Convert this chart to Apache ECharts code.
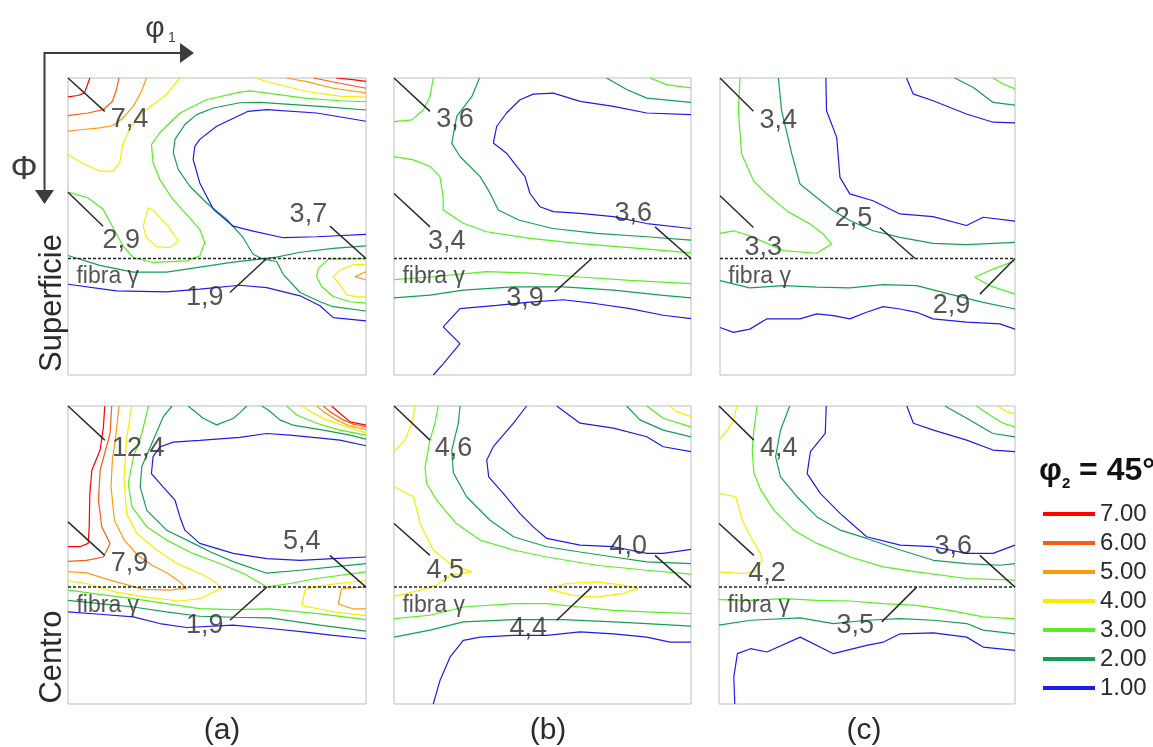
<!DOCTYPE html>
<html>
<head>
<meta charset="utf-8">
<title>ODF phi2 = 45</title>
<script src="https://cdn.jsdelivr.net/npm/echarts@6/dist/echarts.min.js"></script>
<style>
html, body { margin: 0; padding: 0; background: #fff; }
#content-data { width: 1153px; height: 747px; }
</style>
</head>
<body>
<div id="content-data"></div>
<script>
/* contour levels (legend) */
var levelNames = ['7.00', '6.00', '5.00', '4.00', '3.00', '2.00', '1.00'];
var levelColors = { 7: '#ff0000', 6: '#ff5a10', 5: '#ff9a10', 4: '#f6ee00', 3: '#55ee22', 2: '#13a050', 1: '#1c1cec' };
var fibraPhi = 54.7;

/* contour lines per panel: [level, [[phi1, Phi], ...]] in degrees */
var supA = [
  [7, [[6.6,0],[5,4.5],[3,5.3],[0,5.7]]],
  [7, [[81,0],[86,0.5],[90,1]]],
  [6, [[15.4,0],[14.6,3.7],[13.4,7.1],[10.6,9.6],[6,10.6],[0,11.4]]],
  [6, [[74.1,0],[82.1,1.6],[90,3.1]]],
  [5, [[23.7,0],[22.2,4],[19.7,8.6],[16.6,12.1],[13.6,14.4],[9.6,15.1],[4.5,15.6],[0,16.1]]],
  [5, [[66,0],[72.1,1.1],[80.1,3.1],[90,4.5]]],
  [5, [[90,58.7],[86.7,60.2],[90,61.2]]],
  [4, [[33.8,0],[29.7,5],[23.7,9.6],[19.7,13.6],[16.6,19.7],[15.6,25.7],[13.6,28.2],[9.6,28.2],[4.5,25.9],[0,23.2]]],
  [4, [[56.5,0],[62,1.6],[72.1,4.1],[82.1,5.5],[90,5.8]]],
  [4, [[22.7,44.9],[24.2,39.3],[25.7,40],[30.2,44.9],[33.3,49.4],[30.7,51.4],[26.7,51.1],[23.7,48.4],[22.7,44.9]]],
  [4, [[90,56.4],[86.2,56.6],[82.1,58.2],[80.1,60.2],[82.1,62.7],[84.2,65.7],[87.2,66.3],[90,66.3]]],
  [3, [[90,7.2],[82.1,6.9],[72.1,6.2],[62,4.8],[55,3.9],[51.9,4.3],[41.8,6.6],[33.8,10.6],[27.7,16.6],[25.2,20.2],[25.7,25.7],[27.7,30.7],[31.3,36.3],[35.8,41.3],[39.8,45.9],[41.3,49.9],[39.8,53.9],[35.8,55.4],[25.7,55.9],[19.7,54.4],[16.6,50.9],[13.1,44.4],[10.6,39.8],[6,36.3],[0,34.6]]],
  [3, [[90,54.7],[84,54.8],[78.6,54.9],[75.6,57.7],[75.1,60.2],[76.6,63.2],[80.1,66.2],[85.2,67.8],[90,68.2]]],
  [2, [[90,9.7],[77.1,8.7],[67,8],[58,7.4],[51.9,7.5],[43.9,9.1],[38.8,11.1],[35.3,14.1],[32.3,18.6],[31.8,22.7],[33.3,27.7],[36.8,32.8],[41.8,37.8],[47.9,42.8],[52.9,48.4],[55.9,53.4],[59,54.9],[63,55.6],[65,59.5],[70.1,65],[76.1,67.8],[80.1,69.3],[90,70.6]]],
  [2, [[0,53.8],[9.6,56.8],[19.7,58.8],[29.7,58.8],[39.8,57.3],[49.9,55.8],[55.9,55.1],[63,54.3],[70.1,52.8],[80.1,51.6],[90,50.9]]],
  [1, [[90,13.1],[75.1,10.6],[60,9.6],[54.4,10.1],[44.9,14.6],[39.8,18.6],[38.3,20.7],[37.8,24.7],[39.8,31.8],[43.9,39.8],[49.9,44.9],[55.9,46.4],[65,48.4],[75.1,48.1],[90,47.4]]],
  [1, [[0,62.5],[14.6,64.5],[29.7,64.8],[39.8,64],[51.9,62.8],[60,63.5],[70.1,66],[76.1,69],[80.1,72.6],[90,73.6]]]
];
var supB = [
  [3, [[11.9,0],[10.9,5.6],[8.9,9.6],[5.4,12.7],[0,13.2]]],
  [2, [[25.9,0],[23.6,5.6],[19,11.6],[17.5,19.8],[20,23.8],[26.1,29.9],[29.1,34.9],[31.6,40],[38,43.1],[48.1,45.6],[61.4,47.1],[76.6,48.1],[90,49.1]]],
  [3, [[0,23.8],[5.9,24.8],[10.9,26.8],[13.9,29.9],[14.9,36],[14.9,40],[21,44],[28.1,46.6],[41.2,48.6],[56.4,50.2],[71.5,51.4],[90,53]]],
  [1, [[90,45.6],[76.6,44.1],[66.5,42],[56.4,41],[48.3,40.5],[44.2,39],[41.2,35],[39.7,29.9],[37.2,26.8],[34.1,22.8],[30.1,19.7],[31.1,14.7],[34.1,10.6],[38.2,6.6],[42.2,4.9],[48.3,4.6],[56.4,7.1],[66.5,8.6],[76.6,10.6],[90,11.1]]],
  [2, [[64.4,0],[70.5,3.5],[76.6,6.1],[90,7.4]]],
  [3, [[77.6,0],[82.6,2],[90,3]]],
  [3, [[0,61.1],[10.9,60.3],[28.1,58.7],[41.2,59.1],[56.4,60.3],[71.5,61.3],[90,62.3]]],
  [2, [[0,66.6],[10.9,65.8],[21,64.3],[36.2,63.3],[51.3,63.3],[66.5,64.3],[81.6,65.9],[90,66.6]]],
  [1, [[11.9,90],[14.9,86.6],[20,80.5],[14.9,75.4],[20,69.9],[31.1,68.9],[41.2,67.9],[51.3,67.2],[61.4,68.4],[71.5,69.9],[81.6,71.9],[90,72.9]]]
];
var supC = [
  [3, [[6.1,0],[5.6,9.9],[6.6,23],[10.2,31.1],[14.2,35.1],[20.3,40.2],[27.4,44.2],[31.5,47.3],[34,50.3],[29.5,53.1],[19.3,52.3],[9.1,47.8],[4.1,46.3],[0,47.1]]],
  [2, [[17.8,0],[18.8,9.9],[21.9,23],[24.4,32.1],[29.5,36.2],[34.6,40.2],[39.6,43.2],[46.7,46.3],[54.9,48.3],[65,50.1],[75.2,50.5],[90,49.8]]],
  [1, [[32.3,0],[32.5,9.9],[35.6,18],[36.6,30.1],[39.6,35.1],[46.7,37.2],[54.9,41.2],[65,42],[75.2,44.7],[80.3,42.2],[90,43.4]]],
  [1, [[56.9,0],[58.9,4.8],[65,6.9],[75.2,10.9],[83.3,13.4],[90,13.6]]],
  [2, [[71.6,0],[77.2,2.8],[83.3,7.4],[90,8.2]]],
  [3, [[83.3,0],[86.4,1.8],[90,3.3]]],
  [3, [[90,55.4],[83.3,57.9],[77.7,60.4],[82.3,62.9],[90,65.5]]],
  [2, [[0,61.4],[9.1,63.6],[19.3,62.9],[29.5,63.4],[39.6,63.6],[49.8,62.6],[60,62.9],[70.1,65.5],[80.3,68],[90,70]]],
  [1, [[0,75.6],[4.1,77.1],[9.1,76.1],[14.2,73],[24.4,73],[29.5,71.5],[34.6,72],[39.6,73],[44.7,71],[49.8,69.3],[54.9,70],[60,71],[65,73],[75.2,74],[85.4,74.5],[90,76.1]]]
];
var cenA = [
  [7, [[11.1,0],[10.7,6.3],[9.7,13.3],[7.2,19.4],[6.6,26.4],[6.4,36.5],[6.1,41.5],[3.6,42.5],[0,42.5]]],
  [7, [[79.6,0],[82.1,2.2],[85.2,4.8],[90,5.8]]],
  [6, [[13.2,0],[12.7,8.3],[9.7,19.4],[9.2,28.4],[10.2,36.5],[12.7,41.5],[10.7,45.6],[5.6,46.6],[0,46.9]]],
  [6, [[77.1,0],[79.1,1.7],[83.1,4.2],[86.2,5.5],[90,6.3]]],
  [5, [[15.4,0],[14.4,9.3],[13.4,16.3],[13,24.4],[14,34.5],[17,40.5],[21,45],[25.4,48.1],[30.2,50.6],[33.1,52.6],[35.8,55],[30.8,55.6],[22.8,55.4],[12.7,52.6],[5.6,50.4],[0,50]]],
  [5, [[75.1,0],[77.1,1.7],[81.1,4.2],[85.2,6.1],[90,7.1]]],
  [5, [[90,54.6],[82.6,55.2],[81.6,59.8],[86.2,61.3],[90,61.3]]],
  [4, [[19.2,0],[17.7,10],[16.9,22],[17.7,32.5],[20.8,38.5],[26.8,43.5],[32.9,47.6],[39.9,50.6],[43.5,52.5],[46.4,55],[39.8,58.2],[33.8,58.9],[24.7,57.9],[14.6,56.2],[5.5,53.6],[0,52.8]]],
  [4, [[70.6,0],[74.1,2.2],[78.1,4.2],[84.2,6.3],[90,8.1]]],
  [4, [[90,52.7],[80,53.8],[74.1,54.7],[71.6,55.5],[70.6,60.3],[81.1,62.3],[90,63.3]]],
  [3, [[24.3,0],[22.3,8.3],[19.8,15.3],[18.2,23.4],[19.3,30.4],[23.8,36.5],[29.8,40.5],[37.9,44.6],[44.9,47.2],[53,50.6],[60,54.6],[67.1,53.6],[75.1,52.1],[90,50.1]]],
  [3, [[66,0],[69.1,2.7],[75.1,5.2],[82.1,7.3],[90,8.8]]],
  [3, [[0,55.6],[9.6,56.9],[19.7,58.2],[29.7,59.7],[39.8,61.2],[49.9,61.5],[61,61.3],[76.1,62.8],[90,64.5]]],
  [2, [[31.4,0],[28.8,3.2],[25.3,11.3],[22.3,18.3],[21.8,24.4],[23.8,31.5],[29.8,37.5],[37.9,41.5],[42.9,44],[49.9,47],[60,50.5],[70.1,49.6],[80.1,48.6],[90,47.6]]],
  [2, [[36.3,0],[40.8,3.7],[44.9,5.7],[50,3.7],[51.9,2],[54,0]]],
  [2, [[58.5,0],[60.5,1.2],[64,4.2],[68,5.8],[77.1,7.3],[85.2,8.8],[90,10]]],
  [2, [[0,58.7],[9.6,59.7],[19.7,60.7],[29.7,62.2],[39.8,63.5],[49.9,63.8],[61,64],[76.1,66.2],[90,68]]],
  [1, [[90,12],[82.1,10.3],[77.1,9.8],[67,8.8],[60,8.3],[51.9,9.5],[39.8,10.4],[31.8,10.9],[27.7,12.4],[25.7,15.3],[25.2,20.4],[28.7,24.4],[32.3,28.4],[33.8,33.5],[35.3,37.5],[39.8,41.5],[49.9,44.5],[60,46.1],[70.1,46.6],[80.1,46.1],[90,45.6]]],
  [1, [[0,62.2],[9.6,62.9],[19.7,63.7],[27.7,65.7],[35.8,66.9],[49.9,66.2],[61,67.2],[71.1,68.2],[80.1,69.3],[90,70.3]]]
];
var cenB = [
  [4, [[6.4,0],[5.4,5.2],[3.3,10.3],[0,13.8]]],
  [3, [[13.4,0],[12.4,5.2],[10.9,10.3],[9.4,18.5],[9.9,23.4],[12.9,28.4],[18.9,35.5],[26.1,40.5],[36.2,43.5],[46.3,45.6],[61.4,48.1],[76.6,49.6],[90,50.8]]],
  [2, [[20,0],[19.5,5.2],[17.5,13.3],[18,20.2],[22,27.4],[29.1,34.5],[36.2,39.5],[46.3,42.5],[56.4,44.1],[66.5,45.6],[76.6,47.1],[90,47.6]]],
  [1, [[40.2,0],[36.2,5.2],[30.1,12.3],[28.1,16.3],[28.7,21.4],[33.1,26.4],[38.2,32.5],[42.2,36.5],[46.3,40],[56.4,42],[66.5,42.5],[76.6,44.5],[81.6,44.5],[90,43.3]]],
  [1, [[49.3,0],[56.4,5.2],[66.5,6.7],[76.6,9.3],[81.6,12.3],[90,13.8]]],
  [2, [[70.5,0],[74.5,4.2],[81.6,7.3],[90,9.3]]],
  [3, [[76.6,0],[81.6,3.7],[90,6.3]]],
  [4, [[83.6,0],[85.7,1.7],[90,3.2]]],
  [4, [[0,24.4],[5.9,27.4],[7.9,35.5],[11.9,43.5],[17,47.6],[23.5,50.1],[17,51.1],[12.9,54.1],[7.9,55.6],[0,57.5]]],
  [4, [[46.8,55.3],[52.3,53.6],[61.4,53.1],[69.5,54.1],[74,55.1],[69.5,56.6],[61.4,57.7],[54.3,57.2],[46.8,55.3]]],
  [3, [[0,64.2],[10.9,63.2],[21,60.7],[36.2,59.7],[46.3,59.7],[56.4,60.7],[66.5,61.7],[76.6,62.2],[90,62.7]]],
  [2, [[0,69.8],[10.9,67.7],[21,65.2],[36.2,64.5],[51.3,64.5],[66.5,65.2],[76.6,65.7],[90,66.5]]],
  [1, [[11.9,90],[13.9,83],[17,75.8],[21,70.8],[26.1,69.8],[36.2,69.3],[46.3,69.3],[56.4,68.2],[66.5,68.8],[76.6,69.8],[83.6,71.3],[90,71.3]]]
];
var cenC = [
  [4, [[5.4,0],[4.5,4.2],[2.5,7.3],[0,10.3]]],
  [3, [[11.6,0],[10.6,7.3],[10.1,13.3],[10.6,20.2],[12.6,25.2],[16.7,31.5],[22.7,37.5],[29.8,41.5],[39.9,45.6],[50,48.6],[60.1,50.1],[75.3,52.1],[90,52.6]]],
  [2, [[21.5,0],[18.7,7.3],[17.2,15.3],[18.7,21.4],[23.7,27.4],[29.8,33.5],[36.9,37.5],[44.9,40],[55.1,43.5],[65.2,46.6],[75.3,47.6],[85.4,48.1],[90,47.6]]],
  [1, [[32.6,0],[32.3,8.3],[27.8,13.8],[26.8,20.4],[30.8,26.4],[36.9,32.5],[44.9,39.5],[55.1,42],[65.2,42.5],[75.3,44.5],[83.3,44.5],[90,42]]],
  [1, [[57.1,0],[59.1,5.2],[65.2,7.3],[75.3,10.3],[83.3,13.3],[90,13.8]]],
  [2, [[68.7,0],[75.3,3.7],[83.3,8.3],[90,9.3]]],
  [3, [[78.3,0],[82.3,2.7],[86.4,5.2],[90,6.3]]],
  [4, [[84.8,0],[87.4,1.7],[90,2.4]]],
  [4, [[0,26.4],[5.1,27.4],[7.1,34.5],[9.6,39.5],[12.6,44.5],[13.1,46.6],[11.6,49.6],[7.6,50.6],[0,50.1]]],
  [3, [[0,58.5],[9.6,58.7],[19.7,58.2],[29.8,58.7],[39.9,58.9],[50,59.7],[60.1,60.2],[70.2,61.7],[80.3,63.7],[90,64.2]]],
  [2, [[0,66.2],[9.6,64.7],[24.7,64],[34.8,65.7],[44.9,64.7],[55.1,64.2],[65.2,64.7],[75.3,65.7],[80.3,67.7],[90,68.8]]],
  [1, [[4.8,90],[4.5,81.8],[5.6,74.8],[9.6,73.3],[14.6,74.3],[24.7,69.8],[34.8,74.8],[44.9,72.3],[50,71.3],[55.1,68.8],[65.2,68.5],[75.3,69.8],[80.3,72.8],[90,73.8]]]
];

/* intensity callouts: [text, line start, line end, label centre] */
var notesSupA = [['7,4',[0,0],[11.1,10.1],[18.6,12.6]], ['2,9',[0,34.6],[10.6,44.9],[16.1,49.4]], ['3,7',[90,54.7],[79.1,44.9],[72.6,41.3]], ['1,9',[60,54.7],[48.9,65],[41.3,66.5]]];
var notesSupB = [['3,6',[0,0],[10.9,10.1],[18.5,12.7]], ['3,4',[0,35],[10.9,45.1],[16,49.6]], ['3,6',[90,54.7],[79.1,45.1],[72.5,41]], ['3,9',[59.9,54.7],[48.7,64.8],[39.7,66.9]]];
var notesSupC = [['3,4',[0,0],[10.2,10.1],[17.8,12.9]], ['3,3',[0,35.7],[10.2,45.3],[13.2,51.3]], ['2,5',[59.5,54.7],[48.8,45.3],[40.7,42.7]], ['2,9',[90,54.7],[79.3,65.5],[70.6,69]]];
var notesCenA = [['12,4',[0,0],[11.1,10.3],[21.2,12.8]], ['7,9',[0,35],[11.1,45.1],[18.6,47.6]], ['5,4',[90,54.7],[79.1,45.1],[70.6,41]], ['1,9',[60,54.7],[48.9,64.7],[41.3,66.2]]];
var notesCenB = [['4,6',[0,0],[10.9,10.3],[18,12.8]], ['4,5',[0,35.5],[10.9,45.1],[15.5,49.6]], ['4,0',[90,54.7],[79.1,45.1],[71,42.5]], ['4,4',[59.9,54.7],[49.3,64.7],[40.7,67.2]]];
var notesCenC = [['4,4',[0,0],[10.6,10.3],[18.2,12.8]], ['4,2',[0,35.5],[10.6,45.1],[14.6,50.6]], ['3,6',[90,54.7],[79.3,45.1],[71.2,42.5]], ['3,5',[60.1,54.7],[49.5,65.2],[41.4,66.2]]];

var dom = document.getElementById('content-data');
var myChart = echarts.init(dom, null, { renderer: 'canvas' });

var panels = [
  { contours: supA, notes: notesSupA, box: { left: 68, top: 78, width: 298, height: 297 } },
  { contours: supB, notes: notesSupB, box: { left: 394, top: 78, width: 297, height: 297 } },
  { contours: supC, notes: notesSupC, box: { left: 720, top: 78, width: 295, height: 297 } },
  { contours: cenA, notes: notesCenA, box: { left: 68, top: 406, width: 298, height: 298 } },
  { contours: cenB, notes: notesCenB, box: { left: 394, top: 406, width: 297, height: 298 } },
  { contours: cenC, notes: notesCenC, box: { left: 719, top: 406, width: 296, height: 298 } }
];

var grids = [], xAxes = [], yAxes = [], series = [];
var font = 'Liberation Sans';
var ink = '#2b2b2b';

panels.forEach(function (p, i) {
  grids.push({ left: p.box.left, top: p.box.top, width: p.box.width, height: p.box.height,
    show: true, borderColor: '#bdbdbd', borderWidth: 1 });
  xAxes.push({ gridIndex: i, type: 'value', min: 0, max: 90, show: false });
  yAxes.push({ gridIndex: i, type: 'value', min: 0, max: 90, inverse: true, show: false });

  p.contours.forEach(function (c) {
    var col = levelColors[c[0]];
    series.push({
      name: levelNames[7 - c[0]], type: 'line', xAxisIndex: i, yAxisIndex: i,
      data: c[1], symbol: 'none', color: col,
      lineStyle: { color: col, width: 1.2 }, silent: true, z: 2
    });
  });

  // fibra gamma
  series.push({
    type: 'line', xAxisIndex: i, yAxisIndex: i, data: [[0, fibraPhi], [90, fibraPhi]],
    symbol: 'none', lineStyle: { color: '#222', width: 1.5, type: [3, 2] }, silent: true, z: 3
  });
  series.push({
    type: 'scatter', xAxisIndex: i, yAxisIndex: i, data: [[2.4, 60.2]], symbolSize: 1,
    itemStyle: { color: 'rgba(0,0,0,0)' }, silent: true, z: 4,
    label: { show: true, formatter: 'fibra γ', position: 'right', distance: 0,
      fontSize: 23, color: ink, fontFamily: font }
  });

  p.notes.forEach(function (n) {
    series.push({
      type: 'line', xAxisIndex: i, yAxisIndex: i, data: [n[1], n[2]], symbol: 'none',
      lineStyle: { color: ink, width: 1.5 }, silent: true, z: 4
    });
  });
  series.push({
    type: 'scatter', xAxisIndex: i, yAxisIndex: i, symbolSize: 1,
    itemStyle: { color: 'rgba(0,0,0,0)' }, silent: true, z: 5,
    data: p.notes.map(function (n) { return { value: n[3], name: n[0] }; }),
    label: { show: true, formatter: '{b}', position: 'inside', fontSize: 27, color: ink,
      fontFamily: font, textBorderWidth: 0 }
  });
});

var option = {
  backgroundColor: '#fff',
  animation: false,
  textStyle: { fontFamily: font },
  title: {
    text: '{p|φ}{s|2}{t| = 45°}',
    left: 1034, top: 450,
    textStyle: {
      rich: {
        p: { fontSize: 32, fontWeight: 'bold', color: '#111', fontFamily: font },
        s: { fontSize: 15, fontWeight: 'bold', color: '#111', fontFamily: font, verticalAlign: 'bottom', padding: [0, 0, -4, 0] },
        t: { fontSize: 32, fontWeight: 'bold', color: '#111', fontFamily: font }
      }
    }
  },
  legend: {
    orient: 'vertical', left: 1038, top: 497, selectedMode: false,
    itemWidth: 52, itemHeight: 4, itemGap: 5,
    textStyle: { fontSize: 24, lineHeight: 24, color: ink, fontFamily: font },
    data: levelNames.map(function (nm, k) {
      return { name: nm, icon: 'rect', itemStyle: { color: levelColors[7 - k] } };
    })
  },
  grid: grids,
  xAxis: xAxes,
  yAxis: yAxes,
  series: series,
  graphic: [
    { type: 'polyline', shape: { points: [[181, 53], [44.5, 53], [44.5, 191]] }, style: { stroke: '#3c3c3c', lineWidth: 2, fill: null } },
    { type: 'polygon', shape: { points: [[180, 43], [194, 53], [180, 63]] }, style: { fill: '#3c3c3c' } },
    { type: 'polygon', shape: { points: [[35, 190], [54, 190], [44.5, 204]] }, style: { fill: '#3c3c3c' } },
    { type: 'text', x: 155, y: 29, style: { text: 'φ', font: '30px "Liberation Sans"', fill: '#3c3c3c', align: 'center', verticalAlign: 'middle' } },
    { type: 'text', x: 168, y: 38, style: { text: '1', font: '14px "Liberation Sans"', fill: '#3c3c3c', align: 'left', verticalAlign: 'middle' } },
    { type: 'text', x: 24, y: 170, style: { text: 'Φ', font: '34px "Liberation Sans"', fill: '#3c3c3c', align: 'center', verticalAlign: 'middle' } },
    { type: 'text', x: 52, y: 303, rotation: Math.PI / 2, style: { text: 'Superficie', font: '31px "Liberation Sans"', fill: ink, align: 'center', verticalAlign: 'middle' } },
    { type: 'text', x: 52, y: 657, rotation: Math.PI / 2, style: { text: 'Centro', font: '31px "Liberation Sans"', fill: ink, align: 'center', verticalAlign: 'middle' } },
    { type: 'text', x: 222, y: 731, style: { text: '(a)', font: '30px "Liberation Sans"', fill: ink, align: 'center', verticalAlign: 'middle' } },
    { type: 'text', x: 548, y: 731, style: { text: '(b)', font: '30px "Liberation Sans"', fill: ink, align: 'center', verticalAlign: 'middle' } },
    { type: 'text', x: 864, y: 731, style: { text: '(c)', font: '30px "Liberation Sans"', fill: ink, align: 'center', verticalAlign: 'middle' } }
  ]
};

if (option && typeof option === 'object') {
  myChart.setOption(option);
}

window.addEventListener('resize', myChart.resize);
</script>
</body>
</html>
